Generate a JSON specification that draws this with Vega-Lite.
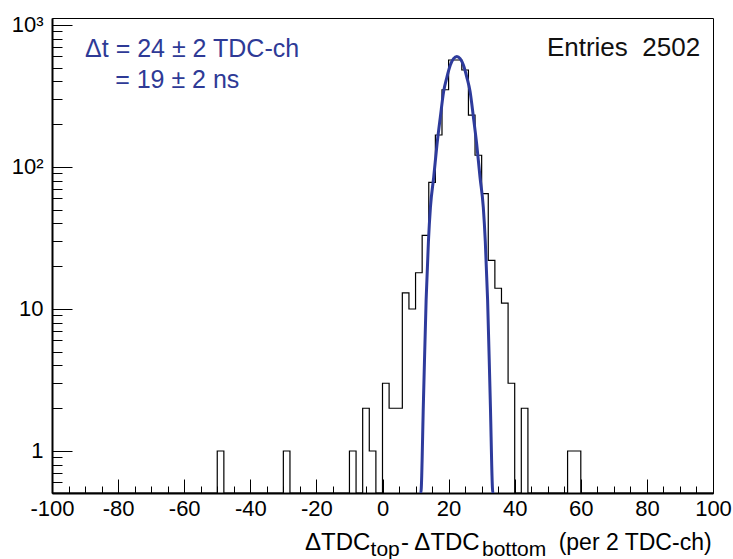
{
  "$schema": "https://vega.github.io/schema/vega-lite/v6.json",
  "width": 661,
  "height": 475,
  "autosize": {"type": "none"},
  "padding": {"left": 52, "top": 18, "right": 20, "bottom": 66},
  "background": "white",
  "config": {
    "view": {"stroke": "#000", "strokeWidth": 1},
    "font": "Liberation Sans",
    "axis": {"grid": false, "title": null, "labelFlush": false, "labelOverlap": false, "tickColor": "#000", "domainColor": "#000", "labelColor": "#000", "labelFont": "Liberation Sans"}
  },
  "datasets": {
    "hist": [
      {"x": -100, "n": 0}, {"x": -98, "n": 0}, {"x": -96, "n": 0}, {"x": -94, "n": 0}, {"x": -92, "n": 0},
      {"x": -90, "n": 0}, {"x": -88, "n": 0}, {"x": -86, "n": 0}, {"x": -84, "n": 0}, {"x": -82, "n": 0},
      {"x": -80, "n": 0}, {"x": -78, "n": 0}, {"x": -76, "n": 0}, {"x": -74, "n": 0}, {"x": -72, "n": 0},
      {"x": -70, "n": 0}, {"x": -68, "n": 0}, {"x": -66, "n": 0}, {"x": -64, "n": 0}, {"x": -62, "n": 0},
      {"x": -60, "n": 0}, {"x": -58, "n": 0}, {"x": -56, "n": 0}, {"x": -54, "n": 0}, {"x": -52, "n": 0},
      {"x": -50, "n": 1}, {"x": -48, "n": 0}, {"x": -46, "n": 0}, {"x": -44, "n": 0}, {"x": -42, "n": 0},
      {"x": -40, "n": 0}, {"x": -38, "n": 0}, {"x": -36, "n": 0}, {"x": -34, "n": 0}, {"x": -32, "n": 0},
      {"x": -30, "n": 1}, {"x": -28, "n": 0}, {"x": -26, "n": 0}, {"x": -24, "n": 0}, {"x": -22, "n": 0},
      {"x": -20, "n": 0}, {"x": -18, "n": 0}, {"x": -16, "n": 0}, {"x": -14, "n": 0}, {"x": -12, "n": 0},
      {"x": -10, "n": 1}, {"x": -8, "n": 0}, {"x": -6, "n": 2}, {"x": -4, "n": 1}, {"x": -2, "n": 0},
      {"x": 0, "n": 3}, {"x": 2, "n": 2}, {"x": 4, "n": 2}, {"x": 6, "n": 13}, {"x": 8, "n": 10},
      {"x": 10, "n": 18}, {"x": 12, "n": 33}, {"x": 14, "n": 78}, {"x": 16, "n": 168}, {"x": 18, "n": 350},
      {"x": 20, "n": 567}, {"x": 22, "n": 567}, {"x": 24, "n": 482}, {"x": 26, "n": 232}, {"x": 28, "n": 121},
      {"x": 30, "n": 65}, {"x": 32, "n": 22}, {"x": 34, "n": 14}, {"x": 36, "n": 11}, {"x": 38, "n": 3},
      {"x": 40, "n": 0}, {"x": 42, "n": 2}, {"x": 44, "n": 0}, {"x": 46, "n": 0}, {"x": 48, "n": 0},
      {"x": 50, "n": 0}, {"x": 52, "n": 0}, {"x": 54, "n": 0}, {"x": 56, "n": 1}, {"x": 58, "n": 1},
      {"x": 60, "n": 0}, {"x": 62, "n": 0}, {"x": 64, "n": 0}, {"x": 66, "n": 0}, {"x": 68, "n": 0},
      {"x": 70, "n": 0}, {"x": 72, "n": 0}, {"x": 74, "n": 0}, {"x": 76, "n": 0}, {"x": 78, "n": 0},
      {"x": 80, "n": 0}, {"x": 82, "n": 0}, {"x": 84, "n": 0}, {"x": 86, "n": 0}, {"x": 88, "n": 0},
      {"x": 90, "n": 0}, {"x": 92, "n": 0}, {"x": 94, "n": 0}, {"x": 96, "n": 0}, {"x": 98, "n": 0},
      {"x": 100, "n": 0}
    ],
    "fit": [
      {"x": 11.2, "f": 0.3}, {"x": 11.6, "f": 0.5}, {"x": 12.4, "f": 2.3}, {"x": 13.2, "f": 11.6},
      {"x": 13.9, "f": 30}, {"x": 14.5, "f": 52}, {"x": 15.5, "f": 85}, {"x": 16.5, "f": 145},
      {"x": 17.5, "f": 225}, {"x": 18.5, "f": 340}, {"x": 19.5, "f": 430}, {"x": 20.5, "f": 520},
      {"x": 21.5, "f": 580}, {"x": 22.5, "f": 600}, {"x": 23.5, "f": 580}, {"x": 24.5, "f": 520},
      {"x": 25.5, "f": 430}, {"x": 26.5, "f": 340}, {"x": 27.5, "f": 225}, {"x": 28.5, "f": 145},
      {"x": 29.5, "f": 85}, {"x": 30.5, "f": 52}, {"x": 31.1, "f": 30}, {"x": 31.8, "f": 11.6},
      {"x": 32.6, "f": 2.3}, {"x": 33.4, "f": 0.5}, {"x": 33.8, "f": 0.3}
    ]
  },
  "layer": [
    {
      "data": {"name": "hist"},
      "mark": {"type": "line", "interpolate": "step-after", "color": "#000", "strokeWidth": 1.2, "clip": true, "invalid": "show"},
      "encoding": {
        "x": {"field": "x", "type": "quantitative",
              "scale": {"domain": [-100, 100], "nice": false, "zero": false},
              "axis": {"orient": "bottom", "values": [-100, -80, -60, -40, -20, 0, 20, 40, 60, 80, 100], "tickSize": -14, "labelPadding": 19, "labelFontSize": 22, "domainWidth": 2,
                       "labelExpr": "datum.value < 0 ? '-' + abs(datum.value) : '' + datum.value"}},
        "y": {"field": "n", "type": "quantitative",
              "scale": {"type": "log", "domain": [0.506, 1120], "nice": false, "clamp": true},
              "axis": {"orient": "left", "values": [1, 10, 100, 1000], "tickSize": -20, "labelPadding": 29, "labelFontSize": 22, "domainWidth": 2,
                       "labelExpr": "datum.value == 1 ? '1' : datum.value == 10 ? '10' : datum.value == 100 ? '10²' : '10³'"}}
      }
    },
    {
      "data": {"name": "fit"},
      "mark": {"type": "line", "interpolate": "monotone", "color": "#2e3b9c", "strokeWidth": 3, "clip": true},
      "encoding": {
        "x": {"field": "x", "type": "quantitative",
              "axis": {"orient": "bottom", "values": [-95, -90, -85, -75, -70, -65, -55, -50, -45, -35, -30, -25, -15, -10, -5, 5, 10, 15, 25, 30, 35, 45, 50, 55, 65, 70, 75, 85, 90, 95], "tickSize": -7, "labels": false, "domain": false}},
        "y": {"field": "f", "type": "quantitative",
              "axis": {"orient": "left", "values": [0.6, 0.7, 0.8, 0.9, 2, 3, 4, 5, 6, 7, 8, 9, 20, 30, 40, 50, 60, 70, 80, 90, 200, 300, 400, 500, 600, 700, 800, 900], "tickSize": -10, "labels": false, "domain": false}}
      }
    },
    {
      "data": {"values": [{"label": "Δt = 24 ± 2 TDC-ch"}]},
      "mark": {"type": "text", "align": "left", "baseline": "alphabetic", "fontSize": 25, "color": "#2e3a96"},
      "encoding": {"x": {"datum": -90, "type": "quantitative", "axis": null}, "y": {"datum": 595, "type": "quantitative", "axis": null}, "text": {"field": "label"}}
    },
    {
      "data": {"values": [{"label": "= 19 ± 2 ns"}]},
      "mark": {"type": "text", "align": "left", "baseline": "alphabetic", "fontSize": 25, "color": "#2e3a96"},
      "encoding": {"x": {"datum": -80.9, "type": "quantitative", "axis": null}, "y": {"datum": 360, "type": "quantitative", "axis": null}, "text": {"field": "label"}}
    },
    {
      "data": {"values": [{"label": "Entries\u00a0\u00a02502"}]},
      "mark": {"type": "text", "align": "right", "baseline": "alphabetic", "fontSize": 26, "color": "#111"},
      "encoding": {"x": {"datum": 96.1, "type": "quantitative", "axis": null}, "y": {"datum": 600, "type": "quantitative", "axis": null}, "text": {"field": "label"}}
    },
    {
      "data": {"values": [{"label": "ΔTDC"}]},
      "mark": {"type": "text", "align": "left", "baseline": "alphabetic", "fontSize": 24, "dy": 57, "color": "#000"},
      "encoding": {"x": {"datum": -23.45, "type": "quantitative", "axis": null}, "y": {"datum": 0.506, "type": "quantitative", "axis": null}, "text": {"field": "label"}}
    },
    {
      "data": {"values": [{"label": "top"}]},
      "mark": {"type": "text", "align": "left", "baseline": "alphabetic", "fontSize": 21, "dy": 63, "color": "#000"},
      "encoding": {"x": {"datum": -3.6, "type": "quantitative", "axis": null}, "y": {"datum": 0.506, "type": "quantitative", "axis": null}, "text": {"field": "label"}}
    },
    {
      "data": {"values": [{"label": "- ΔTDC"}]},
      "mark": {"type": "text", "align": "left", "baseline": "alphabetic", "fontSize": 24, "dy": 57, "color": "#000"},
      "encoding": {"x": {"datum": 5.6, "type": "quantitative", "axis": null}, "y": {"datum": 0.506, "type": "quantitative", "axis": null}, "text": {"field": "label"}}
    },
    {
      "data": {"values": [{"label": "bottom"}]},
      "mark": {"type": "text", "align": "left", "baseline": "alphabetic", "fontSize": 21, "dy": 63, "color": "#000"},
      "encoding": {"x": {"datum": 30.1, "type": "quantitative", "axis": null}, "y": {"datum": 0.506, "type": "quantitative", "axis": null}, "text": {"field": "label"}}
    },
    {
      "data": {"values": [{"label": "(per 2 TDC-ch)"}]},
      "mark": {"type": "text", "align": "left", "baseline": "alphabetic", "fontSize": 23, "dy": 57, "color": "#000"},
      "encoding": {"x": {"datum": 53.3, "type": "quantitative", "axis": null}, "y": {"datum": 0.506, "type": "quantitative", "axis": null}, "text": {"field": "label"}}
    }
  ],
  "resolve": {"axis": {"x": "independent", "y": "independent"}}
}
